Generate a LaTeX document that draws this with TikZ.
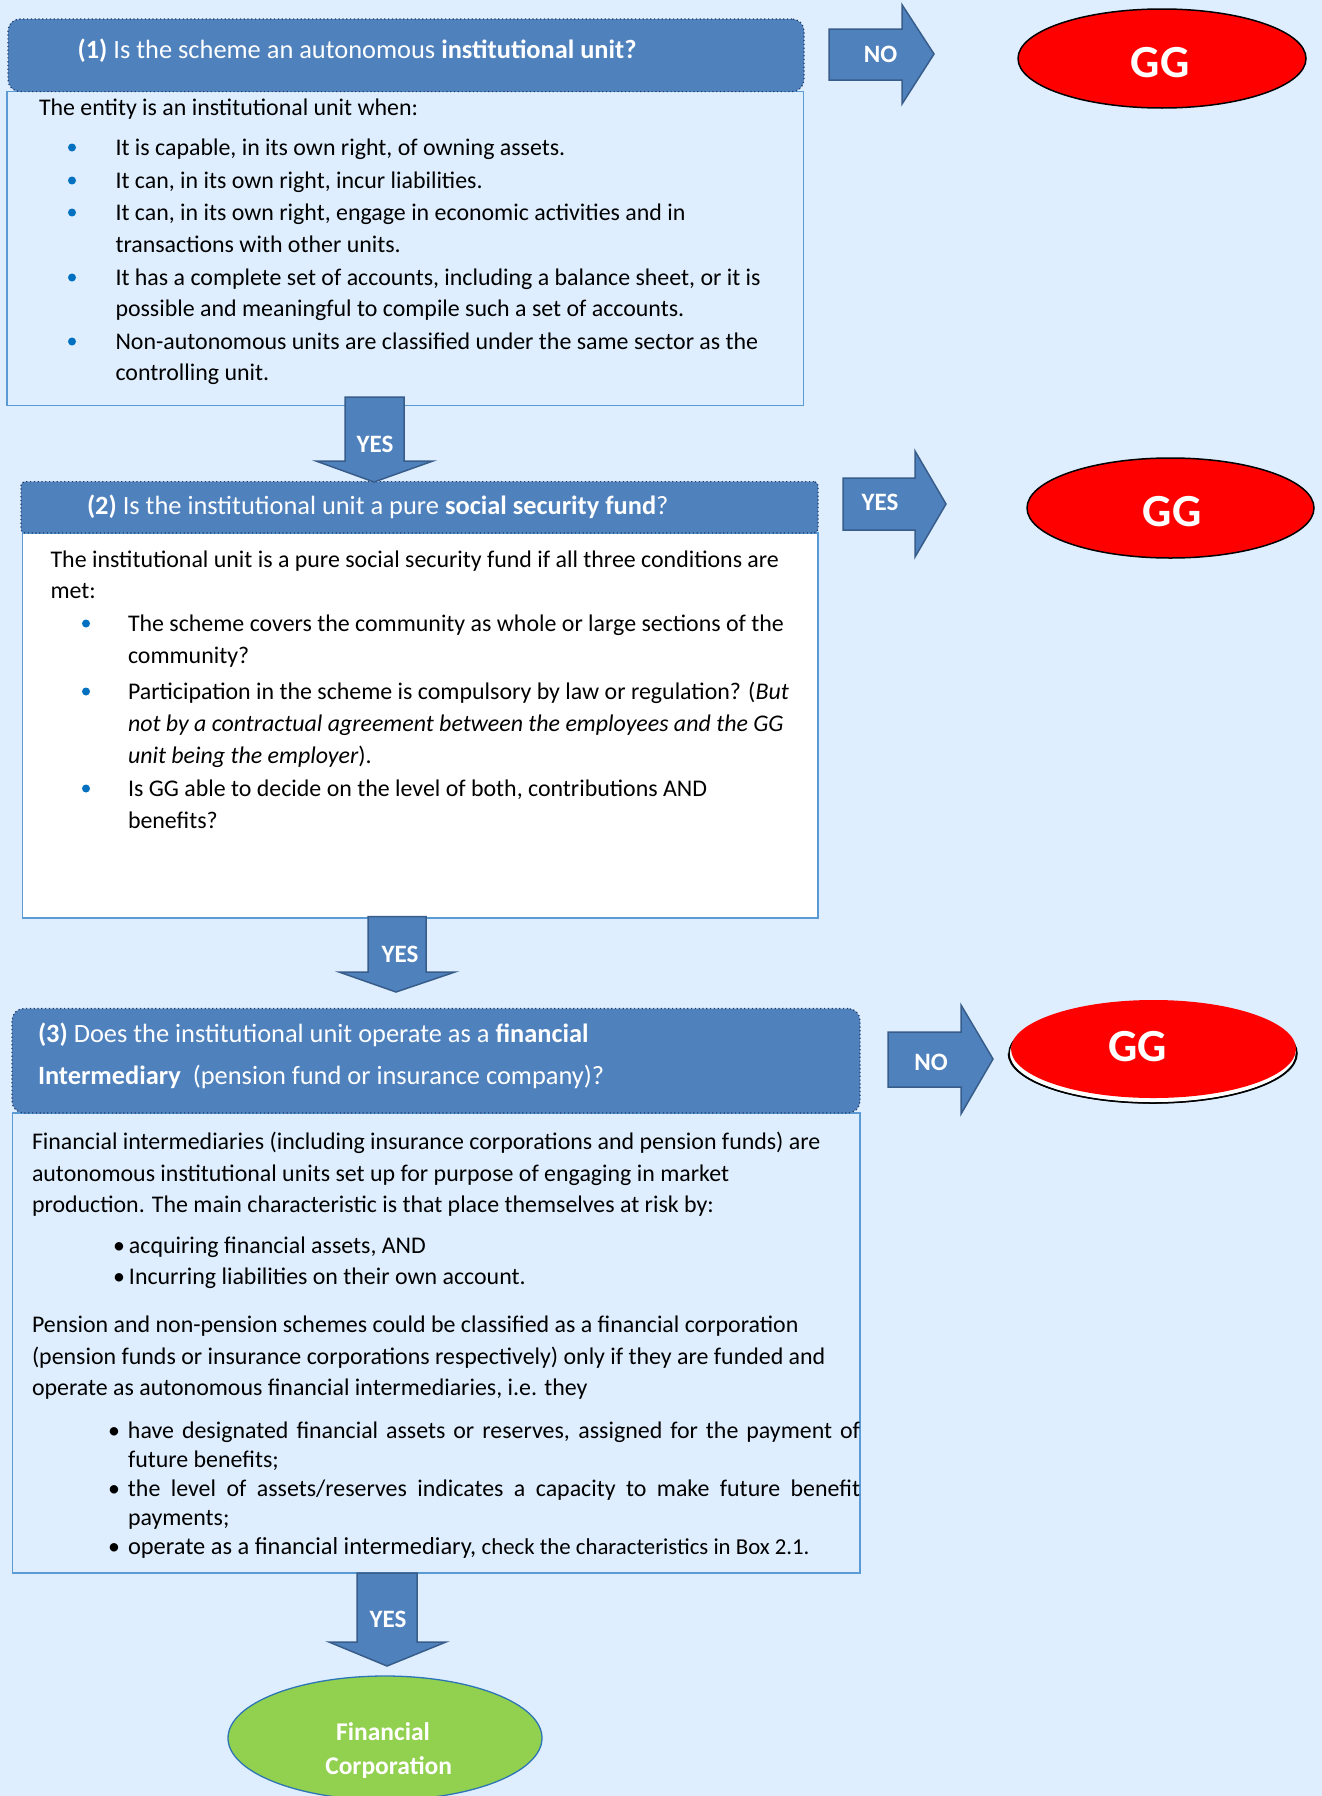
\documentclass[tikz,border=0pt]{standalone}
\usepackage{fontspec}
\setmainfont{Carlito}
\usetikzlibrary{shapes.geometric}
\definecolor{bg}{RGB}{222,238,254}
\definecolor{hdr}{RGB}{79,129,189}
\definecolor{hdrline}{RGB}{31,56,100}
\definecolor{boxline}{RGB}{91,155,213}
\definecolor{arrline}{RGB}{56,93,138}
\definecolor{bul}{RGB}{0,112,192}
\definecolor{ggred}{RGB}{255,0,0}
\definecolor{fcgreen}{RGB}{146,208,80}
\definecolor{fcline}{RGB}{46,117,182}
\newcommand{\bodyfs}{\fontsize{23.9}{28}\selectfont}
\newcommand{\smallfs}{\fontsize{22.8}{28}\selectfont}
\newcommand{\hdrfs}{\fontsize{26.4}{30}\selectfont}
\newcommand{\lblfs}{\fontsize{25}{30}\selectfont}
\newcommand{\ggfs}{\fontsize{46}{50}\selectfont}
\newcommand{\fcfs}{\fontsize{25.5}{30}\selectfont}
\begin{document}
\begin{tikzpicture}[x=1pt,y=-1pt,
  txt/.style={inner sep=0, outer sep=0, anchor=base west, font=\bodyfs},
  htxt/.style={inner sep=0, outer sep=0, anchor=base west, font=\hdrfs, text=white},
  lbl/.style={inner sep=0, outer sep=0, anchor=base, font=\lblfs\bfseries, text=white},
  ggtxt/.style={inner sep=0, outer sep=0, anchor=base, font=\ggfs\bfseries, text=white},
  fctxt/.style={inner sep=0, outer sep=0, anchor=base, font=\fcfs\bfseries, text=white},
  bodybox/.style={rectangle, draw=boxline, line width=1.2pt, inner sep=0, outer sep=0, anchor=north west},
  hdrbox/.style={rectangle, fill=hdr, draw=hdrline, line width=1.2pt, dash pattern=on 1.2pt off 2.6pt, inner sep=0, outer sep=0, anchor=north west},
  blockarr/.style={fill=hdr, draw=arrline, line width=1.5pt, line join=miter},
  dot/.style={circle, fill=bul, inner sep=0, minimum size=8pt},
  gg/.style={ellipse, fill=ggred, draw=black, line width=1.5pt, inner sep=0}
]
\path[use as bounding box, fill=bg] (0,0) rectangle (1322,1796);

% ---------------- Box 1
\node[bodybox, fill=bg, minimum width=796.5pt, minimum height=314pt] (b1) at (7,91.6) {};
\node[hdrbox, rounded corners=12pt, minimum width=796pt, minimum height=72.6pt] (h1) at (8,19) {};
\node[htxt] (h1t) at (77.6,58) {\textbf{(1)} Is the scheme an autonomous \textbf{institutional unit?}};

\node[txt] (b1l0) at (39,115) {The entity is an institutional unit when:};
\node[dot] (b1d1) at (72,147.5) {};
\node[dot] (b1d2) at (72,180.5) {};
\node[dot] (b1d3) at (72,212.5) {};
\node[dot] (b1d4) at (72,277.5) {};
\node[dot] (b1d5) at (72,341.5) {};
\node[txt] (b1l1) at (115.5,155) {It is capable, in its own right, of owning assets.};
\node[txt] (b1l2) at (115.5,188) {It can, in its own right, incur liabilities.};
\node[txt] (b1l3) at (115.5,220) {It can, in its own right, engage in economic activities and in};
\node[txt] (b1l4) at (115.5,252) {transactions with other units.};
\node[txt] (b1l5) at (115.5,285) {It has a complete set of accounts, including a balance sheet, or it is};
\node[txt] (b1l6) at (115.5,316) {possible and meaningful to compile such a set of accounts.};
\node[txt] (b1l7) at (115.5,349) {Non-autonomous units are classified under the same sector as the};
\node[txt] (b1l8) at (115.5,380) {controlling unit.};

% ---------------- Box 2
\node[bodybox, fill=white, minimum width=795.3pt, minimum height=385pt] (b2) at (22.7,533) {};
\node[hdrbox, rounded corners=4pt, minimum width=797pt, minimum height=51.4pt] (h2) at (21,481.6) {};
\node[htxt] (h2t) at (87,514) {\textbf{(2)} Is the institutional unit a pure \textbf{social security fund}?};

\node[txt] (b2l0) at (50.6,567) {The institutional unit is a pure social security fund if all three conditions are};
\node[txt] (b2l0b) at (50.6,598) {met:};
\node[dot] (b2d1) at (86,623.5) {};
\node[dot] (b2d2) at (86,691.5) {};
\node[dot] (b2d3) at (86,788.5) {};
\node[txt] (b2l1) at (128,631) {The scheme covers the community as whole or large sections of the};
\node[txt] (b2l2) at (128,663) {community?};
\node[txt] (b2l3) at (128,699) {Participation in the scheme is compulsory by law or regulation? (\textit{But}};
\node[txt] (b2l4) at (128,731) {\textit{not by a contractual agreement between the employees and the GG}};
\node[txt] (b2l5) at (128,763) {\textit{unit being the employer}).};
\node[txt] (b2l6) at (128,796) {Is GG able to decide on the level of both, contributions AND};
\node[txt] (b2l7) at (128,828) {benefits?};

% ---------------- Box 3
\node[bodybox, fill=bg, minimum width=847.3pt, minimum height=460pt] (b3) at (12.7,1113) {};
\node[hdrbox, rounded corners=12pt, minimum width=848pt, minimum height=104.5pt] (h3) at (12,1008.5) {};
\node[htxt] (h3t1) at (38,1042) {\textbf{(3)} Does the institutional unit operate as a \textbf{financial}};
\node[htxt] (h3t2) at (38,1084) {\textbf{Intermediary}\ \ (pension fund or insurance company)?};

\node[txt] (b3l1) at (32,1149) {Financial intermediaries (including insurance corporations and pension funds) are};
\node[txt] (b3l2) at (32,1181) {autonomous institutional units set up for purpose of engaging in market};
\node[txt] (b3l3) at (32,1212.5) {production. The main characteristic is that place themselves at risk by:};
\node[txt] (b3l4) at (113,1253.6) {\makebox[16pt][l]{•}acquiring financial assets, AND};
\node[txt] (b3l5) at (113,1284) {\makebox[16pt][l]{•}Incurring liabilities on their own account.};
\node[txt] (b3l6) at (32,1332) {Pension and non-pension schemes could be classified as a financial corporation};
\node[txt] (b3l7) at (32,1364) {(pension funds or insurance corporations respectively) only if they are funded and};
\node[txt] (b3l8) at (32,1395.5) {operate as autonomous financial intermediaries, i.e. they};
\node[txt] (b3l9) at (108,1438) {\makebox[20pt][l]{•}\makebox[732pt][s]{have designated financial assets or reserves, assigned for the payment of}};
\node[txt] (b3l10) at (128,1467) {future benefits;};
\node[txt] (b3l11) at (108,1496) {\makebox[20pt][l]{•}\makebox[732pt][s]{the level of assets/reserves indicates a capacity to make future benefit}};
\node[txt] (b3l12) at (128,1525) {payments;};
\node[txt] (b3l13) at (108,1554) {\makebox[20pt][l]{•}{\fontsize{24.4}{28}\selectfont operate as a financial intermediary,} {\smallfs check the characteristics in Box 2.1.}};

% ---------------- End nodes
\node[gg, minimum width=288pt, minimum height=99pt] (gg1) at (1162,58.5) {};
\node[ggtxt] (gg1t) at (1160,77) {GG};
\node[gg, minimum width=287pt, minimum height=100pt] (gg2) at (1170.5,508) {};
\node[ggtxt] (gg2t) at (1172,526) {GG};
\node[ellipse, draw=black, line width=1.5pt, inner sep=0, minimum width=288pt, minimum height=99pt, fill=white] (gg3s) at (1153,1053.5) {};
\node[ellipse, fill=ggred, inner sep=0, minimum width=285pt, minimum height=98pt] (gg3) at (1153.5,1049) {};
\draw[black, line width=1.2pt] (gg3s.west) arc[start angle=180, end angle=0, x radius=144pt, y radius=-49.5pt];
\node[ggtxt] (gg3t) at (1137.5,1061.7) {GG};

\node[ellipse, fill=fcgreen, draw=fcline, line width=1.3pt, inner sep=0, minimum width=314pt, minimum height=124pt] (fc) at (385,1738) {};
\node[fctxt] (fct1) at (383,1740.7) {Financial};
\node[fctxt] (fct2) at (388.7,1774) {Corporation};

% ---------------- Block arrows
\draw[blockarr] (829,29) -- (902,29) -- (902,4.7) -- (934,54) -- (902,104) -- (902,80) -- (829,80) -- cycle;
\node[lbl] (no1) at (880.5,62) {NO};
\draw[blockarr] (843,478) -- (915,478) -- (915,451) -- (946,504) -- (915,557) -- (915,530) -- (843,530) -- cycle;
\node[lbl] (yes2) at (880,510.5) {YES};
\draw[blockarr] (888,1032) -- (961,1032) -- (961,1005) -- (993,1059) -- (961,1114) -- (961,1087) -- (888,1087) -- cycle;
\node[lbl] (no3) at (931,1070.5) {NO};

\draw[blockarr] (345,397) -- (404,397) -- (404,461) -- (433,461) -- (374,482) -- (316,461) -- (345,461) -- cycle;
\node[lbl] (yes1) at (375,452) {YES};
\draw[blockarr] (368,916.5) -- (426,916.5) -- (426,972) -- (455,972) -- (396,992) -- (339,972) -- (368,972) -- cycle;
\node[lbl] (yes3) at (400,962.5) {YES};
\draw[blockarr] (357,1573) -- (417,1573) -- (417,1642) -- (446,1642) -- (387,1666) -- (329,1642) -- (357,1642) -- cycle;
\node[lbl] (yes4) at (388,1627) {YES};
\end{tikzpicture}
\end{document}
